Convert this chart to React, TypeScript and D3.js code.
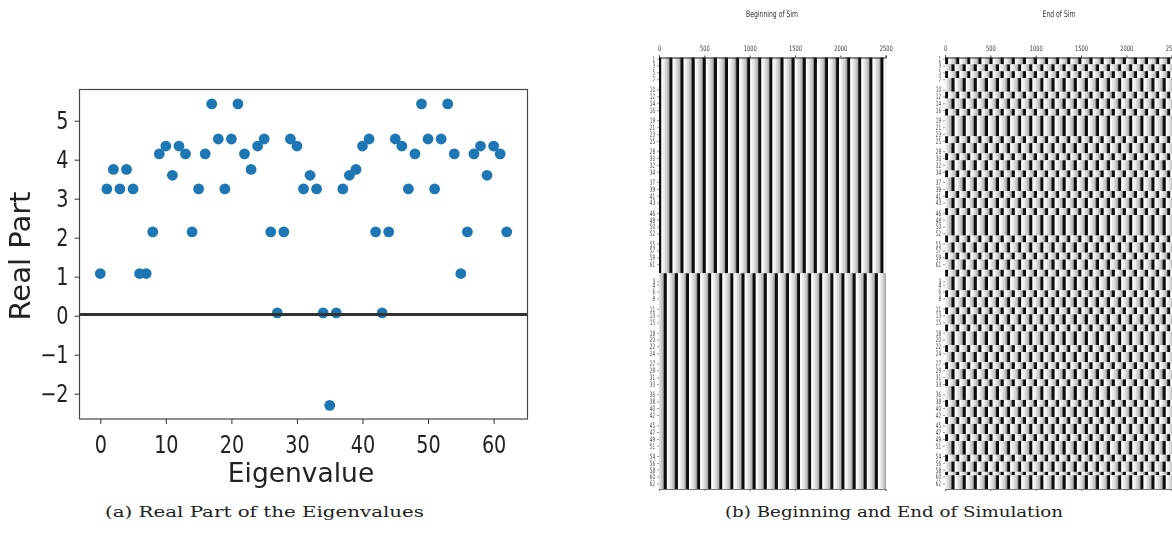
import React, { useEffect, useRef } from "react";
import * as d3 from "d3";

const eigenIndex = d3.range(63);
const realPart = [
  1.08, 3.25, 3.75, 3.25, 3.75, 3.25, 1.08, 1.08, 2.15, 4.15, 4.35, 3.6, 4.35, 4.15, 2.15, 3.25,
  4.15, 5.43, 4.53, 3.25, 4.53, 5.43, 4.15, 3.75, 4.35, 4.53, 2.15, 0.07, 2.15, 4.53, 4.35, 3.25,
  3.6, 3.25, 0.07, -2.3, 0.07, 3.25, 3.6, 3.75, 4.35, 4.53, 2.15, 0.07, 2.15, 4.53, 4.35, 3.25,
  4.15, 5.43, 4.53, 3.25, 4.53, 5.43, 4.15, 1.08, 2.15, 4.15, 4.35, 3.6, 4.35, 4.15, 2.15,
];
const xTicks = [0, 10, 20, 30, 40, 50, 60];
const yTicks = [-2, -1, 0, 1, 2, 3, 4, 5];

const timeTicks = [0, 500, 1000, 1500, 2000, 2500];
const rowLabelsTop = [1, 3, 5, 7, 10, 12, 14, 16, 19, 21, 23, 25, 28, 30, 32, 34, 37, 39, 41, 43, 46, 48, 50, 52, 55, 57, 59, 61];
const rowLabelsBottom = [3, 4, 6, 8, 11, 13, 15, 18, 20, 22, 24, 27, 29, 31, 33, 36, 38, 40, 42, 45, 47, 49, 51, 54, 56, 58, 60, 62];

// spike times of the stripes
const spikesBeginTop = [-112, 10, 133, 255, 378, 500, 623, 745, 868, 990, 1113, 1235, 1358, 1480, 1603, 1725, 1848, 1970, 2093, 2215, 2338, 2460];
const spikesBeginBottom = [-52, 70, 193, 315, 438, 560, 683, 805, 928, 1050, 1173, 1295, 1418, 1540, 1663, 1785, 1908, 2030, 2153, 2275, 2398];
const spikesEndA = [-103, 19, 142, 264, 387, 509, 632, 754, 877, 999, 1122, 1244, 1367, 1489, 1612, 1734, 1857, 1979, 2102, 2224, 2347, 2469];
const spikesEndB = [-32, 90, 213, 335, 458, 580, 703, 825, 948, 1070, 1193, 1315, 1438, 1560, 1683, 1805, 1928, 2050, 2173, 2295, 2418];

// one stripe: black, then white fading to grey until the next one
const profileOffsets = [-16, 16, 35, 55, 75, 92, 102, 106.5];
const profileGrey = [0.03, 1, 0.93, 0.85, 0.76, 0.64, 0.4];

// which spike train each of the 126 rows follows at the end of the sim
const endRowPhases = [
  "AABBAA",
  "BBBBAABBBAABB",
  "BBBBAABBBAABBBAA",
  "BBBBAABBBAABB",
  "BBBBAABBBAABBBAA",
  "BBBBAABBBAABBBAA",
  "BBBBAABBBAABBBAA",
  "BBBBAABBBAABBBAA",
  "BBBBAABBBA",
].join("");

const WIDTH = 1172;
const HEIGHT = 535;
const SANS = "'DejaVu Sans'";

export default function App() {
  const ref = useRef<SVGSVGElement>(null);

  useEffect(() => {
    const svg = d3.select(ref.current);
    svg.selectAll("*").remove();

    const defs = svg.append("defs");
    defs.append("filter").attr("id", "soft").attr("x", "-5%").attr("y", "-5%").attr("width", "110%").attr("height", "110%")
      .append("feGaussianBlur").attr("stdDeviation", 0.55);
    defs.append("filter").attr("id", "softer").attr("x", "-5%").attr("y", "-5%").attr("width", "110%").attr("height", "110%")
      .append("feGaussianBlur").attr("stdDeviation", 0.45);
    const clip = defs.append("clipPath").attr("id", "page");
    clip.append("rect").attr("width", WIDTH).attr("height", HEIGHT);

    drawScatter(svg);

    const heat = svg.append("g").attr("filter", "url(#softer)");
    drawPanel(heat, 659, "Beginning of Sim", 772, (row) => (row < 63 ? spikesBeginTop : spikesBeginBottom));
    drawPanel(heat, 945, "End of Sim", 1059, (row) => (endRowPhases[row] === "A" ? spikesEndA : spikesEndB));

    const captions = svg.append("g")
      .attr("font-family", "'DejaVu Serif'")
      .attr("font-size", 15.5)
      .attr("fill", "#222");
    captions.append("text").attr("x", 105).attr("y", 517)
      .attr("textLength", 319).attr("lengthAdjust", "spacingAndGlyphs").text("(a) Real Part of the Eigenvalues");
    captions.append("text").attr("x", 725).attr("y", 517)
      .attr("textLength", 338).attr("lengthAdjust", "spacingAndGlyphs").text("(b) Beginning and End of Simulation");
  }, []);

  return (
    <svg
      ref={ref}
      width={WIDTH}
      height={HEIGHT}
      style={{ position: "absolute", left: 0, top: 0, background: "#fff" }}
    />
  );
}

function drawScatter(svg: any) {
  const left = 79.5, right = 527.5, top = 89.5, bottom = 419;
  const x = d3.scaleLinear().domain([-3.17, 65.17]).range([left, right]);
  const y = d3.scaleLinear().domain([-2.65, 5.8]).range([bottom, top]);

  const g = svg.append("g").attr("filter", "url(#soft)");

  g.append("g").selectAll("circle").data(realPart).join("circle")
    .attr("cx", (_: number, i: number) => x(eigenIndex[i]))
    .attr("cy", (d: number) => y(d))
    .attr("r", 5.4)
    .attr("fill", "#1f77b4");

  g.append("line")
    .attr("x1", left).attr("x2", right)
    .attr("y1", y(0) - 1.2).attr("y2", y(0) - 1.2)
    .attr("stroke", "#333").attr("stroke-width", 3);

  g.append("rect")
    .attr("x", left).attr("y", top)
    .attr("width", right - left).attr("height", bottom - top)
    .attr("fill", "none").attr("stroke", "#444").attr("stroke-width", 1.2);

  const xAxis = g.append("g")
    .attr("transform", `translate(0,${bottom})`)
    .call(d3.axisBottom(x).tickValues(xTicks).tickSize(5).tickPadding(12));
  const yAxis = g.append("g")
    .attr("transform", `translate(${left},0)`)
    .call(d3.axisLeft(y).tickValues(yTicks).tickSize(5).tickPadding(6));

  [xAxis, yAxis].forEach((a) => {
    a.select(".domain").remove();
    a.selectAll("line").attr("stroke", "#333").attr("stroke-width", 1);
    a.selectAll("text")
      .attr("font-family", SANS)
      .attr("font-size", 24)
      .attr("fill", "#222");
  });
  xAxis.selectAll(".tick text").attr("transform", "scale(0.8,1)");
  yAxis.selectAll(".tick text")
    .attr("x", -11 / 0.8)
    .attr("transform", "scale(0.8,1)")
    .text((d: number) => (d < 0 ? "\u2212" + Math.abs(d) : String(d)));

  g.append("text")
    .attr("x", 301).attr("y", 482)
    .attr("text-anchor", "middle")
    .attr("font-family", SANS).attr("font-size", 26.5).attr("fill", "#222")
    .text("Eigenvalue");

  g.append("text")
    .attr("transform", "translate(30,256) rotate(-90)")
    .attr("text-anchor", "middle")
    .attr("font-family", SANS).attr("font-size", 29).attr("fill", "#222")
    .text("Real Part");
}

function drawPanel(svg: any, left: number, title: string, titleX: number, spikesForRow: (row: number) => number[]) {
  const panelWidth = 226.7;
  const top = 57.5, bottom = 489;
  const x = d3.scaleLinear().domain([0, 2500]).range([left, left + panelWidth]);
  const rows = d3.scaleBand<number>().domain(d3.range(126)).range([top, bottom]);
  const grey = d3.scaleLinear<string>().domain([0, 1]).range(["#000", "#fff"]);

  const g = svg.append("g").attr("clip-path", "url(#page)");

  // neighbouring rows on the same spike train share one run of rects
  const runs: { start: number; end: number; spikes: number[] }[] = [];
  d3.range(126).forEach((row) => {
    const spikes = spikesForRow(row);
    const last = runs[runs.length - 1];
    if (last && last.spikes === spikes) last.end = row;
    else runs.push({ start: row, end: row, spikes });
  });

  runs.forEach((run) => {
    const runTop = rows(run.start) as number;
    const runHeight = (rows(run.end) as number) + rows.bandwidth() - runTop;
    run.spikes.forEach((t) => {
      profileGrey.forEach((v, i) => {
        const a = Math.max(0, t + profileOffsets[i]);
        const b = Math.min(2500, t + profileOffsets[i + 1]);
        if (b <= a) return;
        g.append("rect")
          .attr("x", x(a)).attr("y", runTop)
          .attr("width", x(b) - x(a) + 0.3).attr("height", runHeight)
          .attr("fill", grey(v));
      });
    });
  });

  const topAxis = g.append("g")
    .attr("transform", `translate(0,${top})`)
    .call(d3.axisTop(x).tickValues(timeTicks).tickFormat(d3.format("d")).tickSize(2).tickPadding(5));
  const bottomAxis = g.append("g")
    .attr("transform", `translate(0,${bottom})`)
    .call(d3.axisBottom(x).tickValues(timeTicks).tickSize(2).tickFormat(() => ""));
  bottomAxis.select(".domain").attr("stroke", "#777").attr("stroke-width", 1.2);
  bottomAxis.selectAll("line").attr("stroke", "#777");
  topAxis.select(".domain").attr("stroke", "#222").attr("stroke-width", 1);
  topAxis.selectAll("line").attr("stroke", "#444");
  topAxis.selectAll("text")
    .attr("font-family", SANS).attr("font-size", 7.5).attr("fill", "#333")
    .attr("transform", "scale(0.68,1)");

  [
    { labels: rowLabelsTop, offset: 0 },
    { labels: rowLabelsBottom, offset: 63 },
  ].forEach(({ labels, offset }) => {
    const axis = g.append("g")
      .attr("transform", `translate(${left},0)`)
      .call(
        d3.axisLeft(rows)
          .tickValues(labels.map((r) => r - 1 + offset))
          .tickFormat((d: number) => String(d - offset + 1))
          .tickSize(2)
          .tickPadding(2),
      );
    axis.select(".domain").remove();
    axis.selectAll("line").attr("stroke", "#555").attr("stroke-width", 0.6);
    axis.selectAll("text")
      .attr("font-family", SANS).attr("font-size", 7.5).attr("fill", "#444")
      .attr("x", -4 / 0.55)
      .attr("transform", "scale(0.55,1)");
  });

  g.append("text")
    .attr("transform", `translate(${titleX},17) scale(0.68,1)`)
    .attr("text-anchor", "middle")
    .attr("font-family", SANS).attr("font-size", 9).attr("fill", "#333")
    .text(title);
}
